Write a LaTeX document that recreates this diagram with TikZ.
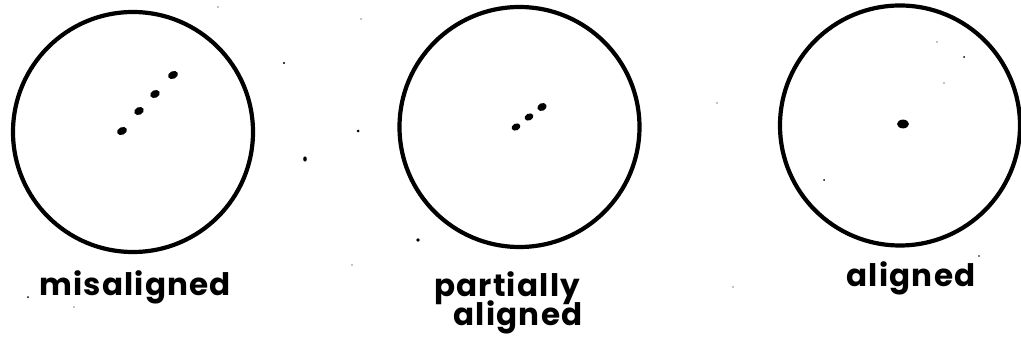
\documentclass[tikz,border=0pt]{standalone}
\usepackage{fontspec}
\newfontfamily\labfont[LetterSpace=4]{Poppins}
\tikzset{
  ring/.style={draw, circle, line width=4.2pt, minimum size=240pt, inner sep=0pt},
  spot/.style={fill=black},
  speck/.style={fill=black},
  lab/.style={font=\labfont\bfseries\fontsize{31}{33}\selectfont, inner sep=0pt, align=center}
}
\begin{document}
\begin{tikzpicture}[x=1pt,y=-1pt]
\useasboundingbox (0,0) rectangle (1021,342);
% circles
\node[ring] (c1) at (133,132) {};
\node[ring] (c2) at (519.5,127) {};
\node[ring] (c3) at (900,125.5) {};
% dots
\fill[spot, rotate around={25:(122,131)}] (122,131) ellipse (5.2pt and 3.8pt);
\fill[spot, rotate around={25:(139,111)}] (139,111) ellipse (5pt and 3.8pt);
\fill[spot, rotate around={25:(155,94)}] (155,94) ellipse (5pt and 3.8pt);
\fill[spot, rotate around={25:(173,75)}] (173,75) ellipse (5.2pt and 3.8pt);
\fill[spot, rotate around={25:(516,127)}] (516,127) ellipse (4.6pt and 3.4pt);
\fill[spot, rotate around={25:(529,117)}] (529,117) ellipse (4.6pt and 3.4pt);
\fill[spot, rotate around={25:(542,107)}] (542,107) ellipse (4.8pt and 3.8pt);
\fill[spot] (903,124) ellipse (6pt and 4.4pt);
% labels
\node[lab, anchor=base] (t1) at (135,295) {misaligned};
\node[lab, anchor=base] (t2) at (507,296) {partially};
\node[lab, anchor=base] (t3) at (518,325) {aligned};
\node[lab, anchor=base] (t4) at (911,287) {aligned};
% specks
\fill[speck] (305,159) ellipse (1.8pt and 2.6pt);
\fill[speck] (284,63) circle (1.1pt);
\fill[speck] (218,7) circle (0.7pt);
\fill[speck] (28,297) circle (1pt);
\fill[speck] (74,307) circle (0.7pt);
\fill[speck] (358,131) circle (1.5pt);
\fill[speck] (418,240) circle (1.8pt);
\fill[speck] (361,19) circle (0.6pt);
\fill[speck] (352,265) circle (0.6pt);
\fill[speck] (717,103) circle (0.7pt);
\fill[speck] (964,57) circle (1pt);
\fill[speck] (937,42) circle (0.6pt);
\fill[speck] (944,83) circle (0.6pt);
\fill[speck] (824,180) circle (1pt);
\fill[speck] (979,256) circle (0.8pt);
\fill[speck] (733,287) circle (0.6pt);
\end{tikzpicture}
\end{document}
